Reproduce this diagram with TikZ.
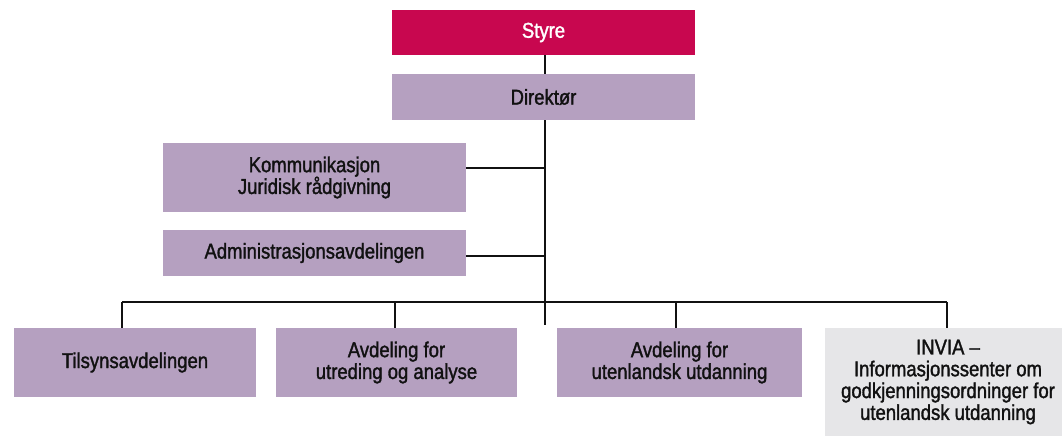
\documentclass[tikz,border=0pt]{standalone}
\usepackage{fontspec}
\setmainfont[FakeStretch=0.86,FakeBold=1.5]{Liberation Sans}
\definecolor{styrec}{HTML}{C8074F}
\definecolor{lilla}{HTML}{B5A0C0}
\definecolor{grayb}{HTML}{E6E6E8}
\definecolor{txt}{HTML}{111111}
\begin{document}
\begin{tikzpicture}[x=1pt,y=-1pt,
  box/.style={fill=lilla, inner sep=0pt, align=center, text=txt,
    font=\fontsize{21.5}{21.8}\selectfont},
  conn/.style={line width=1.3pt, draw=txt}]
\useasboundingbox (0,0) rectangle (1062,446);
\node[box, fill=styrec, text=white, minimum width=303pt, minimum height=45.5pt] (styre) at (543.5,32.5) {Styre};
\node[box, minimum width=303pt, minimum height=46pt] (dir) at (543.5,97) {Direktør};
\node[box, minimum width=303pt, minimum height=69pt] (komm) at (314.5,177.5) {Kommunikasjon\\Juridisk rådgivning};
\node[box, minimum width=303pt, minimum height=46pt] (adm) at (314.5,253) {Administrasjonsavdelingen};
\node[box, minimum width=242pt, minimum height=69pt] (tils) at (135,362.5) {Tilsynsavdelingen};
\node[box, minimum width=241pt, minimum height=69pt] (utred) at (396.5,362.5) {Avdeling for\\utreding og analyse};
\node[box, minimum width=245pt, minimum height=69pt] (utenl) at (679.5,362.5) {Avdeling for\\utenlandsk utdanning};
\node[box, fill=grayb, minimum width=246pt, minimum height=108pt] (invia) at (948,382) {INVIA –\\Informasjonssenter om\\godkjenningsordninger for\\utenlandsk utdanning};
\coordinate (spine) at (545,325);
\coordinate (busL) at (122,302);
\coordinate (busR) at (947,302);
\draw[conn] (styre.south -| spine) -- (dir.north -| spine);
\draw[conn] (dir.south -| spine) -- (spine);
\draw[conn] ([yshift=9.5pt]komm.east) -- ([yshift=9.5pt]komm.east -| spine);
\draw[conn] ([yshift=-3pt]adm.east) -- ([yshift=-3pt]adm.east -| spine);
\draw[conn] (busL) -- (busR);
\draw[conn] (busL) -- (busL |- tils.north);
\draw[conn] ([xshift=-1.5pt]utred.north |- busL) -- ([xshift=-1.5pt]utred.north);
\draw[conn] ([xshift=-3.5pt]utenl.north |- busL) -- ([xshift=-3.5pt]utenl.north);
\draw[conn] (busR) -- (busR |- invia.north);
\end{tikzpicture}
\end{document}
